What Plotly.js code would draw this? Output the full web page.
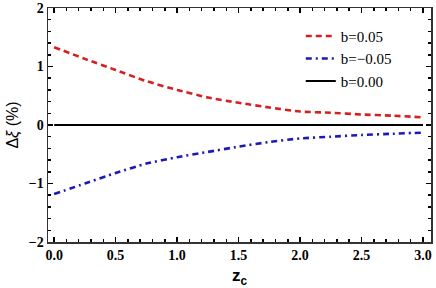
<!DOCTYPE html>
<html>
<head>
<meta charset="utf-8">
<script src="https://cdn.plot.ly/plotly-3.0.1.min.js"></script>
<style>
  html, body { margin: 0; padding: 0; background: #fff; }
  #grafico { width: 436px; height: 288px; }
</style>
</head>
<body>
<div id="grafico"></div>
<script>
// ===== Dados =====
const zc = [0, 0.25, 0.5, 0.75, 1.0, 1.25, 1.5, 1.75, 2.0, 2.25, 2.5, 2.75, 3.0];
const bPos = [1.33, 1.13, 0.94, 0.75, 0.60, 0.47, 0.38, 0.30, 0.23, 0.21, 0.18, 0.16, 0.13];
const bNeg = [-1.18, -1.00, -0.82, -0.66, -0.55, -0.46, -0.37, -0.29, -0.23, -0.20, -0.17, -0.15, -0.13];
const bZero = [0, 0, 0, 0, 0, 0, 0, 0, 0, 0, 0, 0, 0];
const xTicks = [0, 0.5, 1.0, 1.5, 2.0, 2.5, 3.0];
const xTickText = ["<b>0.0</b>", "<b>0.5</b>", "<b>1.0</b>", "<b>1.5</b>", "<b>2.0</b>", "<b>2.5</b>", "<b>3.0</b>"];
const yTicks = [-2, -1, 0, 1, 2];
const yTickText = ["<b>\u22122</b>", "<b>\u22121</b>", "<b>0</b>", "<b>1</b>", "<b>2</b>"];

const serif = "'Times New Roman', 'Liberation Serif', serif";
const sans = "Arial, 'Liberation Sans', sans-serif";

const data = [
  { x: zc, y: bPos, type: "scatter", mode: "lines", name: "b=0.05",
    line: { color: "#d42020", width: 2.6, dash: "6px,4px", shape: "spline", smoothing: 0.6 } },
  { x: zc, y: bNeg, type: "scatter", mode: "lines", name: "b=\u22120.05",
    line: { color: "#1a1ab8", width: 2.6, dash: "6px,4px,2px,4px", shape: "spline", smoothing: 0.6 } },
  { x: zc, y: bZero, type: "scatter", mode: "lines", name: "b=0.00",
    line: { color: "#000", width: 2 } }
];

const eixo = {
  showline: true, linecolor: "#333", linewidth: 1.5, mirror: "allticks",
  ticks: "inside", ticklen: 5, tickwidth: 1.5, tickcolor: "#000",
  showgrid: false, zeroline: false,
  tickfont: { family: serif, size: 14, color: "#000" }
};

const layout = {
  width: 436, height: 288,
  margin: { l: 48, r: 5, t: 8, b: 46 },
  paper_bgcolor: "#fff", plot_bgcolor: "#fff",
  font: { family: serif },
  showlegend: true,
  legend: {
    x: 0.66, y: 0.95, xanchor: "left", yanchor: "top",
    bgcolor: "rgba(0,0,0,0)", borderwidth: 0,
    font: { family: serif, size: 15, color: "#000" },
    tracegroupgap: 0
  },
  xaxis: Object.assign({}, eixo, {
    range: [-0.05, 3.065],
    tickvals: xTicks, ticktext: xTickText,
    minor: { dtick: 0.1, ticks: "inside", ticklen: 3, tickwidth: 1.5, tickcolor: "#000" },
    title: { text: "<b>z<sub>c</sub></b>", font: { family: sans, size: 17, color: "#000" }, standoff: 8 }
  }),
  yaxis: Object.assign({}, eixo, {
    range: [-2, 2],
    tickvals: yTicks, ticktext: yTickText,
    minor: { dtick: 0.2, ticks: "inside", ticklen: 3, tickwidth: 1.5, tickcolor: "#000" },
    title: { text: "\u0394<i>\u03be</i> (%)", font: { family: sans, size: 16, color: "#000" }, standoff: 6 }
  })
};

Plotly.newPlot("grafico", data, layout, { displayModeBar: false, staticPlot: true });
</script>
</body>
</html>
